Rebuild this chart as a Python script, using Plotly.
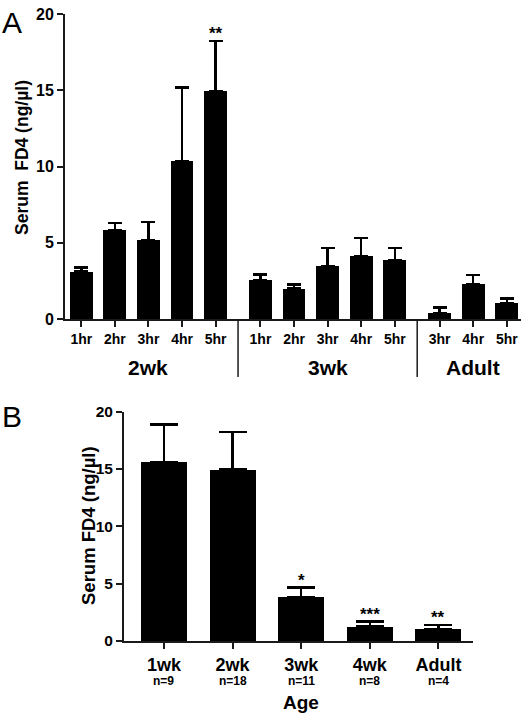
import plotly.graph_objects as go

# ---------------- Data ----------------
# Panel A: serum FD4 by age group and time after gavage
groups_a = ["2wk", "3wk", "Adult"]
hours_2wk = ["1hr", "2hr", "3hr", "4hr", "5hr"]
hours_3wk = ["1hr", "2hr", "3hr", "4hr", "5hr"]
hours_adult = ["3hr", "4hr", "5hr"]
mean_2wk = [3.1, 5.83, 5.17, 10.37, 14.95]
sem_2wk = [0.28, 0.47, 1.2, 4.8, 3.28]
mean_3wk = [2.55, 2.0, 3.49, 4.13, 3.84]
sem_3wk = [0.38, 0.27, 1.18, 1.17, 0.81]
mean_adult = [0.41, 2.27, 1.03]
sem_adult = [0.33, 0.63, 0.33]
sig_a = {("2wk", "5hr"): "**"}

# Panel B: serum FD4 by age
ages_b = ["1wk", "2wk", "3wk", "4wk", "Adult"]
n_b = ["n=9", "n=18", "n=11", "n=8", "n=4"]
mean_b = [15.63, 14.97, 3.84, 1.28, 1.05]
sem_b = [3.27, 3.25, 0.81, 0.41, 0.35]
sig_b = ["", "", "*", "***", "**"]

yticks = [0, 5, 10, 15, 20]

# ---------------- Layout helpers ----------------
W, H = 525, 715
FONT = "Arial, Liberation Sans, Helvetica, sans-serif"
AX = "#1a1a1a"


def px_x(p):
    return p / W


def px_y(p):
    return 1 - p / H


GROUP_GAP = 1 / 3
hour_lists = [hours_2wk, hours_3wk, hours_adult]
mean_lists = [mean_2wk, mean_3wk, mean_adult]
sem_lists = [sem_2wk, sem_3wk, sem_adult]

pos_a, lab_a, val_a, err_a, grp_of = [], [], [], [], []
group_ranges = []
cur = 0.0
for g, hrs, ms, ss in zip(groups_a, hour_lists, mean_lists, sem_lists):
    start = cur
    for h, m, s in zip(hrs, ms, ss):
        pos_a.append(cur)
        lab_a.append(h)
        val_a.append(m)
        err_a.append(s)
        grp_of.append((g, h))
        cur += 1
    group_ranges.append((start, cur - 1))
    cur += GROUP_GAP

fig = go.Figure()
fig.add_trace(go.Bar(
    x=pos_a, y=val_a, width=0.68,
    marker=dict(color="black", line=dict(width=0)),
    error_y=dict(type="data", array=err_a, arrayminus=[0] * len(err_a),
                 symmetric=False, color="black", thickness=2.5, width=7),
    xaxis="x", yaxis="y", showlegend=False,
))
pos_b = list(range(len(ages_b)))
fig.add_trace(go.Bar(
    x=pos_b, y=mean_b, width=0.67,
    marker=dict(color="black", line=dict(width=0)),
    error_y=dict(type="data", array=sem_b, arrayminus=[0] * len(sem_b),
                 symmetric=False, color="black", thickness=2.5, width=14),
    xaxis="x2", yaxis="y2", showlegend=False,
))

axis_common = dict(showgrid=False, zeroline=False, showline=True, linecolor=AX,
                   linewidth=2, ticks="outside", ticklen=6, tickwidth=2,
                   tickcolor=AX, fixedrange=True, automargin=False)

fig.update_layout(
    width=W, height=H, autosize=False,
    margin=dict(l=0, r=0, t=0, b=0, pad=0, autoexpand=False),
    paper_bgcolor="white", plot_bgcolor="white",
    font=dict(family=FONT, color="black"),
    bargap=0,
    xaxis=dict(domain=[px_x(65), px_x(521)], range=[-0.485, 13.09], anchor="y",
               tickvals=pos_a, ticktext=lab_a,
               tickfont=dict(size=14, weight="bold", family=FONT), **axis_common),
    yaxis=dict(domain=[px_y(319), px_y(14)], range=[0, 20], anchor="x",
               tickvals=yticks,
               tickfont=dict(size=16, weight="bold", family=FONT), **axis_common),
    xaxis2=dict(domain=[px_x(124), px_x(472.7)], range=[-0.583, 4.5], anchor="y2",
                tickvals=pos_b, ticktext=ages_b,
                tickfont=dict(size=18, weight="bold", family=FONT), **axis_common),
    yaxis2=dict(domain=[px_y(641), px_y(411.7)], range=[0, 20], anchor="x2",
                tickvals=yticks,
                tickfont=dict(size=15.5, weight="bold", family=FONT), **axis_common),
)

ann = []
shapes = []


def txt(text, x, y, size, xref="paper", yref="paper", bold=True, angle=0, **kw):
    d = dict(text=text, x=x, y=y, xref=xref, yref=yref, showarrow=False,
             xanchor="center", yanchor="middle", textangle=angle,
             font=dict(size=size, family=FONT, weight="bold" if bold else "normal"))
    d.update(kw)
    return d


# Panel letters
ann.append(txt("A", px_x(12), px_y(22), 30, bold=False))
ann.append(txt("B", px_x(12), px_y(416), 30, bold=False))

# Y-axis titles
ann.append(txt("Serum&nbsp;&nbsp;FD4 (ng/\u00b5l)", px_x(22), px_y(158), 17.5, angle=-90))
ann.append(txt("Serum FD4 (ng/\u00b5l)", px_x(88), px_y(526), 18.5, angle=-90))

# Group labels and separators (panel A)
for g, (s, e) in zip(groups_a, group_ranges):
    ann.append(txt(g, (s + e) / 2, px_y(368), 21, xref="x"))
for (s0, e0), (s1, e1) in zip(group_ranges[:-1], group_ranges[1:]):
    xm = (e0 + s1) / 2
    shapes.append(dict(type="line", xref="x", yref="paper", x0=xm, x1=xm,
                       y0=px_y(319), y1=px_y(377), line=dict(color=AX, width=1.5)))

# Significance marks
for p, gh, m, s in zip(pos_a, grp_of, val_a, err_a):
    if gh in sig_a:
        ann.append(txt(sig_a[gh], p, m + s, 17, xref="x", yref="y",
                       yanchor="bottom", yshift=-4))
for p, st, m, s in zip(pos_b, sig_b, mean_b, sem_b):
    if st:
        ann.append(txt(st, p, m + s, 17, xref="x2", yref="y2",
                       yanchor="bottom", yshift=-4))

# Group sizes and axis title (panel B)
for p, n in zip(pos_b, n_b):
    ann.append(txt(n, p, px_y(681), 12, xref="x2", borderpad=0))
ann.append(txt("Age", 2, px_y(702), 19, xref="x2", borderpad=0))

fig.update_layout(annotations=ann, shapes=shapes)

fig.write_html("out.html", config={"displayModeBar": False},
               post_script="document.body.style.margin='0';")
